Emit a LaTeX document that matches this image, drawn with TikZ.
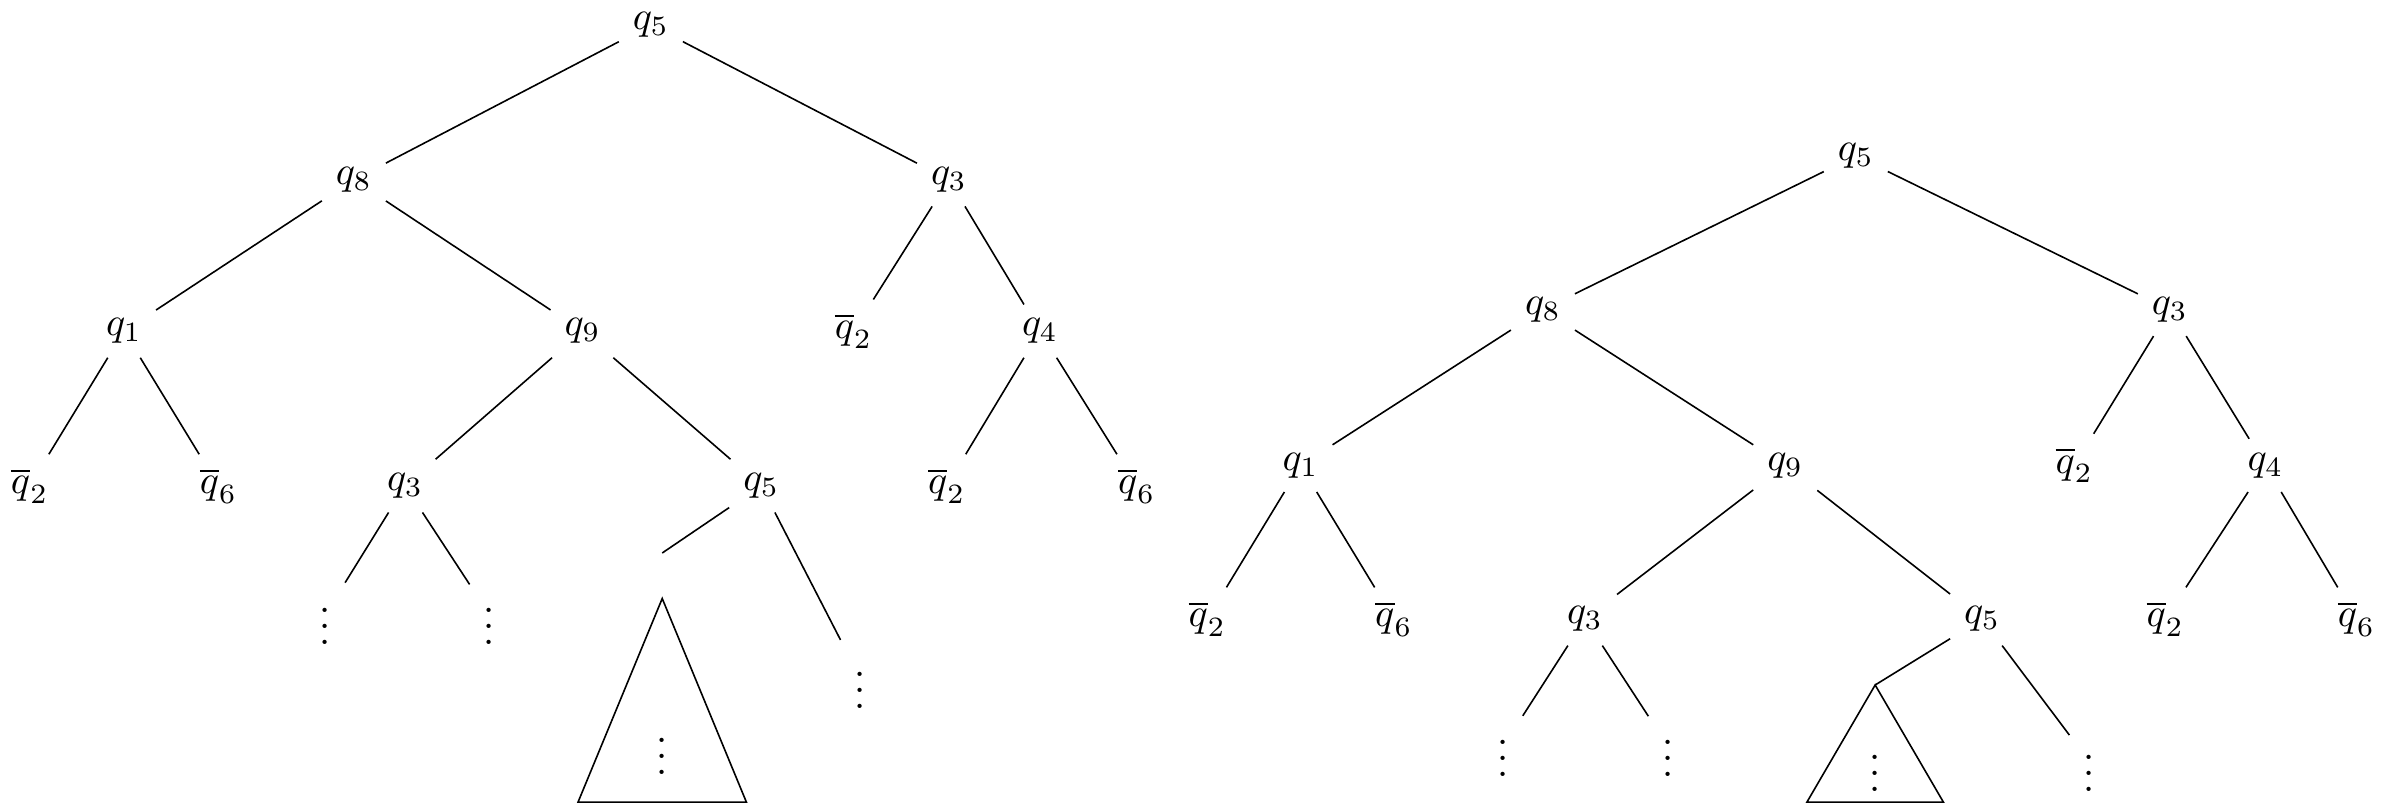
\documentclass[tikz,border=0pt]{standalone}
\begin{document}
\begin{tikzpicture}
            \useasboundingbox (0,0) rectangle (21.04,7.12);
            % left tree
            \node (a0) at (5.72, 6.90) {$q_5$};
            \node (a1) at (3.11, 5.54) {$q_8$};
            \node (a2) at (8.34, 5.54) {$q_3$};
            \node (a3) at (1.09, 4.21) {$q_1$};
            \node (a4) at (5.12, 4.21) {$q_9$};
            \node (a5) at (7.50, 4.21) {$\overline{q}_2$};
            \node (a6) at (9.14, 4.21) {$q_4$};
            \node (a7) at (0.26, 2.85) {$\overline{q}_2$};
            \node (a8) at (1.92, 2.85) {$\overline{q}_6$};
            \node (a9) at (3.56, 2.85) {$q_3$};
            \node (a10) at (6.69, 2.85) {$q_5$};
            \node (a11) at (8.32, 2.85) {$\overline{q}_2$};
            \node (a12) at (9.99, 2.85) {$\overline{q}_6$};
            \node (a13) at (2.86, 1.72) {$\vdots$};
            \node (a14) at (4.30, 1.72) {$\vdots$};
            \node (a15) at (7.56, 1.16) {$\vdots$};
            \node (a16) at (5.82, 0.58) {$\vdots$};
            \coordinate (a17) at (5.82, 2.26);
            \coordinate (t0) at (5.82, 1.86);
            \draw (a0) -- (a1);
            \draw (a0) -- (a2);
            \draw (a1) -- (a3);
            \draw (a1) -- (a4);
            \draw (a2) -- (a5);
            \draw (a2) -- (a6);
            \draw (a3) -- (a7);
            \draw (a3) -- (a8);
            \draw (a4) -- (a9);
            \draw (a4) -- (a10);
            \draw (a6) -- (a11);
            \draw (a6) -- (a12);
            \draw (a9) -- (a13);
            \draw (a9) -- (a14);
            \draw (a10) -- (a17);
            \draw (a10) -- (a15);
            \draw (t0) -- (5.08, 0.07) -- (6.56, 0.07) -- cycle;
            % right tree
            \node (b0) at (16.31, 5.75) {$q_5$};
            \node (b1) at (13.56, 4.40) {$q_8$};
            \node (b2) at (19.07, 4.40) {$q_3$};
            \node (b3) at (11.43, 3.03) {$q_1$};
            \node (b4) at (15.69, 3.03) {$q_9$};
            \node (b5) at (18.23, 3.03) {$\overline{q}_2$};
            \node (b6) at (19.91, 3.03) {$q_4$};
            \node (b7) at (10.61, 1.68) {$\overline{q}_2$};
            \node (b8) at (12.25, 1.68) {$\overline{q}_6$};
            \node (b9) at (13.93, 1.68) {$q_3$};
            \node (b10) at (17.42, 1.68) {$q_5$};
            \node (b11) at (19.03, 1.68) {$\overline{q}_2$};
            \node (b12) at (20.71, 1.68) {$\overline{q}_6$};
            \node (b13) at (13.21, 0.56) {$\vdots$};
            \node (b14) at (14.66, 0.56) {$\vdots$};
            \node (b15) at (18.36, 0.43) {$\vdots$};
            \node (b16) at (16.48, 0.43) {$\vdots$};
            \coordinate (t1) at (16.48, 1.10);
            \draw (b0) -- (b1);
            \draw (b0) -- (b2);
            \draw (b1) -- (b3);
            \draw (b1) -- (b4);
            \draw (b2) -- (b5);
            \draw (b2) -- (b6);
            \draw (b3) -- (b7);
            \draw (b3) -- (b8);
            \draw (b4) -- (b9);
            \draw (b4) -- (b10);
            \draw (b6) -- (b11);
            \draw (b6) -- (b12);
            \draw (b9) -- (b13);
            \draw (b9) -- (b14);
            \draw (b10) -- (t1);
            \draw (b10) -- (b15);
            \draw (t1) -- (15.88, 0.07) -- (17.08, 0.07) -- cycle;
        \end{tikzpicture}
\end{document}
